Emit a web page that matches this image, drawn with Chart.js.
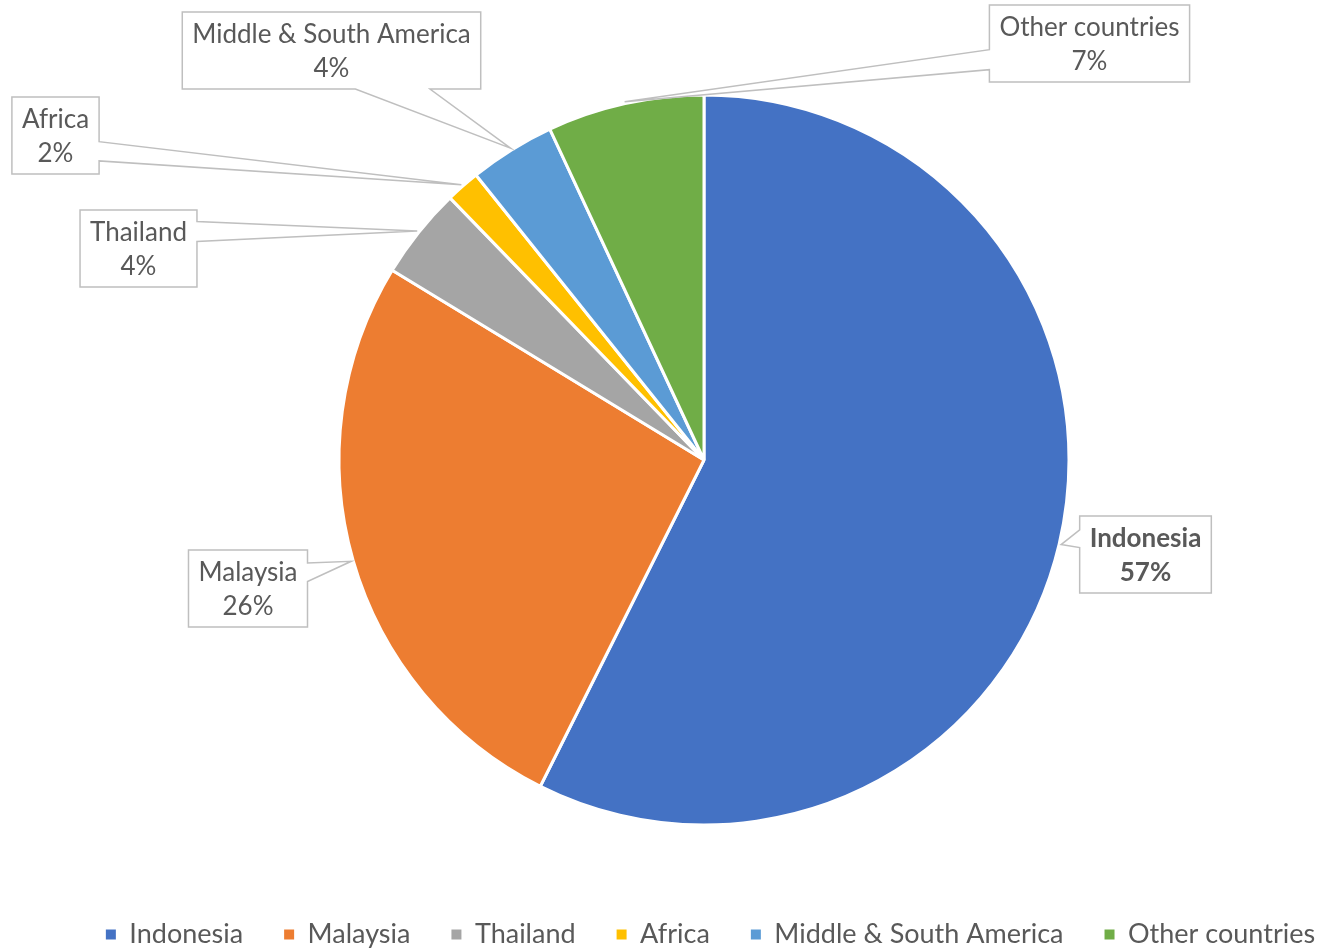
<!DOCTYPE html>
<html>
<head>
<meta charset="utf-8">
<script src="https://cdn.jsdelivr.net/npm/chart.js@4.4.1/dist/chart.umd.min.js"></script>
<style>
  body { margin: 0; background: #fff; }
  #wrap { width: 1317px; height: 950px; }
</style>
</head>
<body>
<div id="wrap"><canvas id="shareChart"></canvas></div>
<script>
// data (share in %)
const regions = ['Indonesia', 'Malaysia', 'Thailand', 'Africa', 'Middle & South America', 'Other countries'];
const shares = [57.4, 26.3, 4.05, 1.51, 3.8, 6.94];
const sliceColors = ['#4472C4', '#ED7D31', '#A5A5A5', '#FFC000', '#5B9BD5', '#70AD47'];

const FONT = 'Lato';
const TEXT = '#595959';

// where each callout box sits and which side its pointer leaves from
const callouts = [
  { cx: 1145.5, top: 516, side: 'left', f: [0.18, 0.41], bold: true },
  { cx: 248, top: 550, side: 'right', f: [0.17, 0.41] },
  { cx: 138.5, top: 210, side: 'right', f: [0.15, 0.41] },
  { cx: 55.5, top: 97, side: 'right', f: [0.58, 0.83] },
  { cx: 331.5, top: 12, side: 'bottom', f: [0.58, 0.83] },
  { cx: 1089.5, top: 5, side: 'left', f: [0.58, 0.84] }
];

function calloutPath(ctx, L, T, W, H, side, f, ax, ay) {
  const R = L + W, B = T + H;
  ctx.beginPath();
  ctx.moveTo(L, T);
  if (side === 'top') { ctx.lineTo(L + W * f[0], T); ctx.lineTo(ax, ay); ctx.lineTo(L + W * f[1], T); }
  ctx.lineTo(R, T);
  if (side === 'right') { ctx.lineTo(R, T + H * f[0]); ctx.lineTo(ax, ay); ctx.lineTo(R, T + H * f[1]); }
  ctx.lineTo(R, B);
  if (side === 'bottom') { ctx.lineTo(L + W * f[1], B); ctx.lineTo(ax, ay); ctx.lineTo(L + W * f[0], B); }
  ctx.lineTo(L, B);
  if (side === 'left') { ctx.lineTo(L, T + H * f[1]); ctx.lineTo(ax, ay); ctx.lineTo(L, T + H * f[0]); }
  ctx.closePath();
}

const calloutLabels = {
  id: 'calloutLabels',
  afterLayout(chart) {
    // pie sits a little right of the canvas middle, legend a bit lower and to the right
    chart.chartArea.left += 45.5;
    chart.chartArea.right += 45.5;
    chart.legend.top += 8;
    chart.legend.bottom += 8;
    chart.legend.left += 52;
    chart.legend.right += 52;
  },
  afterDatasetsDraw(chart) {
    const ctx = chart.ctx;
    const meta = chart.getDatasetMeta(0);
    const total = shares.reduce((a, b) => a + b, 0);
    ctx.save();
    meta.data.forEach((arc, i) => {
      const c = callouts[i];
      const p = arc.getProps(['x', 'y', 'startAngle', 'endAngle', 'outerRadius'], true);
      const mid = (p.startAngle + p.endAngle) / 2;
      const ax = p.x + Math.cos(mid) * (p.outerRadius + 2);
      const ay = p.y + Math.sin(mid) * (p.outerRadius + 2);
      const lines = [regions[i], Math.round(shares[i] / total * 100) + '%'];
      ctx.font = (c.bold ? 'bold ' : '') + '26px ' + FONT;
      const w = Math.max(...lines.map(t => ctx.measureText(t).width)) + 20;
      const h = 77;
      const L = c.cx - w / 2;
      calloutPath(ctx, L, c.top, w, h, c.side, c.f, ax, ay);
      ctx.fillStyle = '#fff';
      ctx.fill();
      ctx.strokeStyle = '#BFBFBF';
      ctx.lineWidth = 1.5;
      ctx.stroke();
      ctx.fillStyle = TEXT;
      ctx.textAlign = 'center';
      ctx.textBaseline = 'middle';
      ctx.fillText(lines[0], c.cx, c.top + 23);
      ctx.fillText(lines[1], c.cx, c.top + 57);
    });
    ctx.restore();
  }
};

const ctx = document.getElementById('shareChart').getContext('2d');

const shareChart = new Chart(ctx, {
  type: 'pie',
  data: {
    labels: regions,
    datasets: [{
      data: shares,
      backgroundColor: sliceColors,
      borderColor: '#ffffff',
      borderWidth: 3
    }]
  },
  options: {
    responsive: true,
    maintainAspectRatio: false,
    animation: false,
    radius: 365,
    layout: { padding: { top: 48 } },
    plugins: {
      legend: {
        display: true,
        position: 'bottom',
        labels: {
          boxWidth: 10,
          boxHeight: 10,
          padding: 41,
          color: TEXT,
          font: { family: FONT, size: 27 },
          generateLabels(chart) {
            // plain filled squares, no white slice border
            const items = Chart.overrides.pie.plugins.legend.labels.generateLabels(chart);
            return items.map(it => Object.assign(it, { lineWidth: 0, strokeStyle: it.fillStyle }));
          }
        }
      },
      tooltip: { enabled: false }
    }
  },
  plugins: [calloutLabels]
});
</script>
</body>
</html>
